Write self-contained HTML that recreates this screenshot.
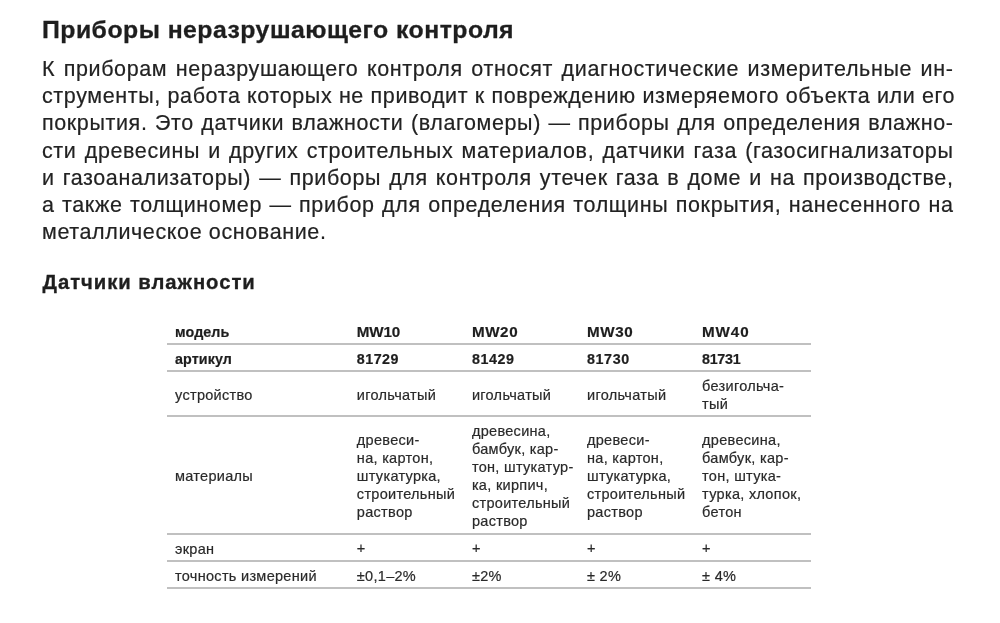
<!DOCTYPE html>
<html lang="ru">
<head>
<meta charset="utf-8">
<title>Приборы неразрушающего контроля</title>
<style>
html, body { margin: 0; padding: 0; background: #fff; }
body { width: 1000px; height: 623px; overflow: hidden; position: relative;
  font-family: "Liberation Sans", Arial, sans-serif; color: #222; }
h1 { position: absolute; left: 42px; top: 14.5px; margin: 0;
  font-size: 24.8px; line-height: 30px; font-weight: bold; letter-spacing: 0.47px; color: #1e1e1e; -webkit-text-stroke: 0.3px #1e1e1e; white-space: nowrap; }
.p { position: absolute; left: 42px; top: 56px; width: 911.5px; margin: 0;
  font-size: 21.5px; line-height: 27.2px; letter-spacing: 0.62px; color: #222; -webkit-text-stroke: 0.2px #222; }
.p div { text-align: justify; text-align-last: justify; white-space: nowrap; }
.p div.last { text-align-last: left; }
h2 { position: absolute; left: 42.6px; top: 269px; margin: 0;
  font-size: 20.3px; line-height: 26px; font-weight: bold; letter-spacing: 0.95px; color: #1e1e1e; -webkit-text-stroke: 0.3px #1e1e1e; white-space: nowrap; }
table { position: absolute; left: 167px; top: 318px; border-collapse: collapse; table-layout: fixed; width: 643.5px; }
td { padding: 4.5px 4px 2.5px 8px; font-size: 14.5px; line-height: 18px; letter-spacing: 0.3px; color: #2a2a2a; -webkit-text-stroke: 0.2px #2a2a2a;
  vertical-align: middle; text-align: left; border-bottom: 2px solid #c0c0c0; }
td.b { font-weight: bold; font-size: 14.3px; letter-spacing: 0.1px; color: #1e1e1e; -webkit-text-stroke: 0.2px #1e1e1e; }
col.c0 { width: 183px; } col.c { width: 115px; }
td.c1 { padding-left: 6.7px; }
.pl { position: relative; top: -1px; }
</style>
</head>
<body>
<h1>Приборы неразрушающего контроля</h1>
<div class="p">
<div>К приборам неразрушающего контроля относят диагностические измерительные ин-</div>
<div>струменты, работа которых не приводит к повреждению измеряемого объекта или его</div>
<div>покрытия. Это датчики влажности (влагомеры) — приборы для определения влажно-</div>
<div>сти древесины и других строительных материалов, датчики газа (газосигнализаторы</div>
<div>и газоанализаторы) — приборы для контроля утечек газа в доме и на производстве,</div>
<div>а также толщиномер — прибор для определения толщины покрытия, нанесенного на</div>
<div class="last">металлическое основание.</div>
</div>
<h2>Датчики влажности</h2>
<table>
<colgroup><col class="c0"><col class="c"><col class="c"><col class="c"><col class="c"></colgroup>
<tr style="height:25px"><td class="b">модель</td><td class="b c1" style="font-size:15.2px;letter-spacing:-0.2px">MW10</td><td class="b c1" style="font-size:15.2px;letter-spacing:0.6px">MW20</td><td class="b c1" style="font-size:15.2px;letter-spacing:0.6px">MW30</td><td class="b c1" style="font-size:15.2px;letter-spacing:0.9px">MW40</td></tr>
<tr style="height:27px"><td class="b">артикул</td><td class="b c1" style="letter-spacing:0.45px">81729</td><td class="b c1" style="letter-spacing:0.6px">81429</td><td class="b c1" style="letter-spacing:0.6px">81730</td><td class="b c1" style="letter-spacing:-0.3px">81731</td></tr>
<tr style="height:45px"><td>устройство</td><td class="c1">игольчатый</td><td class="c1">игольчатый</td><td class="c1">игольчатый</td><td class="c1">безигольча-<br>тый</td></tr>
<tr style="height:118px"><td>материалы</td><td class="c1">древеси-<br>на, картон,<br>штукатурка,<br>строительный<br>раствор</td><td class="c1">древесина,<br>бамбук, кар-<br>тон, штукатур-<br>ка, кирпич,<br>строительный<br>раствор</td><td class="c1">древеси-<br>на, картон,<br>штукатурка,<br>строительный<br>раствор</td><td class="c1">древесина,<br>бамбук, кар-<br>тон, штука-<br>турка, хлопок,<br>бетон</td></tr>
<tr style="height:27px"><td>экран</td><td class="c1"><span class="pl">+</span></td><td class="c1"><span class="pl">+</span></td><td class="c1"><span class="pl">+</span></td><td class="c1"><span class="pl">+</span></td></tr>
<tr style="height:27px"><td>точность измерений</td><td class="c1">±0,1–2%</td><td class="c1">±2%</td><td class="c1">± 2%</td><td class="c1">± 4%</td></tr>
</table>
</body>
</html>
